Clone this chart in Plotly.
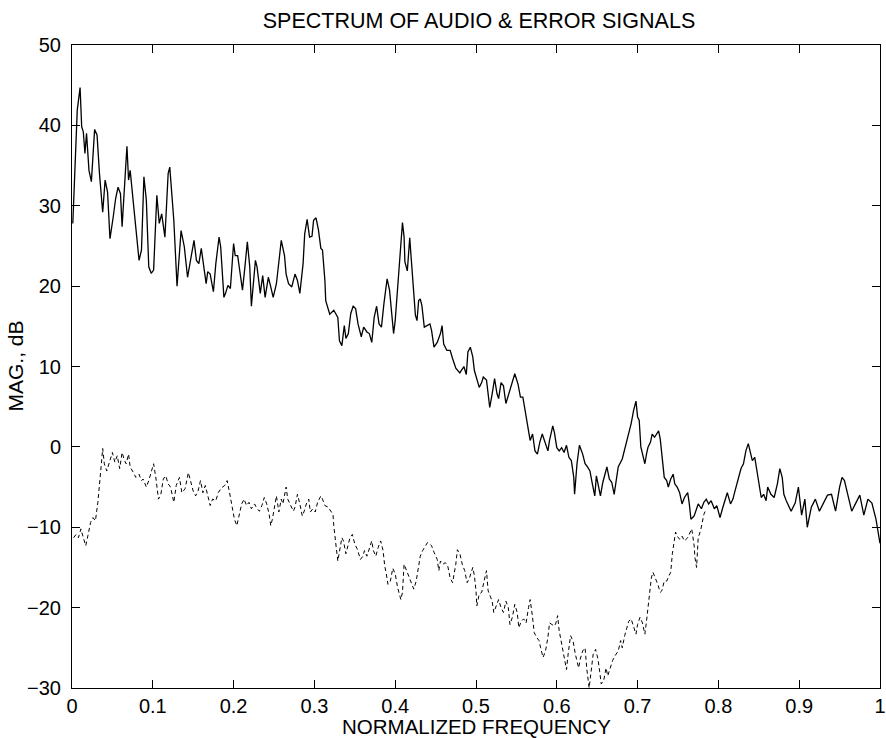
import plotly.graph_objects as go

# audio spectrum (solid line)
audio_f = [0.001, 0.004, 0.0065, 0.010, 0.012, 0.014, 0.016, 0.018, 0.021, 0.024, 0.028, 0.031, 0.034, 0.038,
           0.041, 0.044, 0.047, 0.051, 0.054, 0.057, 0.060, 0.062, 0.065, 0.068, 0.070, 0.072, 0.076, 0.080,
           0.083, 0.086, 0.089, 0.092, 0.095, 0.098, 0.101, 0.105, 0.108, 0.111, 0.115, 0.119, 0.121, 0.126,
           0.130, 0.135, 0.139, 0.143, 0.147, 0.151, 0.154, 0.157, 0.160, 0.163, 0.166, 0.168, 0.171, 0.175,
           0.178, 0.182, 0.184, 0.188, 0.190, 0.193, 0.196, 0.200, 0.202, 0.205, 0.208, 0.211, 0.214, 0.217,
           0.220, 0.222, 0.227, 0.229, 0.233, 0.236, 0.239, 0.243, 0.246, 0.249, 0.253, 0.256, 0.259, 0.263,
           0.265, 0.268, 0.272, 0.276, 0.279, 0.282, 0.286, 0.288, 0.291, 0.294, 0.297, 0.299, 0.302, 0.305,
           0.308, 0.310, 0.313, 0.314, 0.319, 0.324, 0.329, 0.331, 0.334, 0.337, 0.339, 0.342, 0.345, 0.348,
           0.351, 0.354, 0.358, 0.361, 0.365, 0.368, 0.371, 0.374, 0.377, 0.380, 0.383, 0.386, 0.390, 0.393,
           0.398, 0.400, 0.403, 0.406, 0.409, 0.411, 0.412, 0.415, 0.418, 0.420, 0.423, 0.425, 0.427, 0.429,
           0.431, 0.433, 0.436, 0.439, 0.443, 0.445, 0.448, 0.452, 0.456, 0.458, 0.460, 0.464, 0.468, 0.471,
           0.475, 0.480, 0.485, 0.488, 0.490, 0.493, 0.496, 0.498, 0.501, 0.504, 0.507, 0.509, 0.513, 0.517,
           0.520, 0.523, 0.526, 0.528, 0.531, 0.534, 0.537, 0.540, 0.544, 0.548, 0.552, 0.555, 0.558, 0.561,
           0.564, 0.567, 0.570, 0.573, 0.576, 0.579, 0.582, 0.585, 0.589, 0.591, 0.595, 0.597, 0.600, 0.603,
           0.606, 0.609, 0.612, 0.615, 0.618, 0.621, 0.622, 0.625, 0.628, 0.632, 0.635, 0.638, 0.641, 0.644,
           0.647, 0.649, 0.652, 0.654, 0.657, 0.660, 0.662, 0.665, 0.668, 0.671, 0.674, 0.676, 0.681, 0.685,
           0.689, 0.692, 0.695, 0.698, 0.700, 0.702, 0.704, 0.707, 0.709, 0.711, 0.713, 0.716, 0.718, 0.721,
           0.724, 0.726, 0.728, 0.730, 0.733, 0.736, 0.738, 0.741, 0.744, 0.746, 0.749, 0.752, 0.755, 0.758,
           0.762, 0.764, 0.766, 0.770, 0.773, 0.775, 0.779, 0.782, 0.785, 0.788, 0.791, 0.795, 0.798, 0.802,
           0.805, 0.809, 0.811, 0.815, 0.818, 0.820, 0.824, 0.828, 0.831, 0.834, 0.837, 0.839, 0.842, 0.845,
           0.847, 0.850, 0.853, 0.856, 0.859, 0.861, 0.865, 0.869, 0.873, 0.876, 0.879, 0.881, 0.884, 0.890,
           0.895, 0.899, 0.903, 0.907, 0.910, 0.915, 0.920, 0.925, 0.930, 0.935, 0.940, 0.945, 0.950, 0.953,
           0.956, 0.960, 0.965, 0.970, 0.975, 0.980, 0.985, 0.990, 0.995, 1.000]
audio_db = [27.8, 34.8, 41.9, 44.7, 39.8, 39.2, 36.5, 39.0, 34.4, 33.0, 39.5, 38.8, 34.0, 29.2,
            33.2, 31.7, 25.9, 28.6, 30.9, 32.3, 31.5, 27.4, 32.3, 37.4, 33.2, 34.4, 30.3, 26.5,
            23.2, 24.5, 33.6, 30.7, 22.4, 21.6, 22.0, 31.3, 27.8, 29.0, 26.1, 34.0, 34.8, 28.2,
            20.0, 26.9, 24.9, 21.1, 23.2, 25.7, 23.2, 22.8, 24.7, 22.6, 20.3, 21.8, 21.5, 19.3,
            22.8, 26.1, 24.9, 18.6, 19.1, 20.1, 19.7, 25.3, 23.8, 23.8, 21.8, 19.5, 22.4, 25.5,
            22.4, 17.5, 23.2, 22.4, 19.1, 21.3, 18.6, 21.1, 19.9, 18.6, 20.3, 22.8, 25.7, 23.8,
            21.5, 20.3, 19.9, 21.5, 20.7, 19.1, 22.8, 26.5, 28.3, 26.1, 26.2, 28.2, 28.5, 27.0,
            24.7, 24.5, 20.7, 18.2, 16.5, 17.0, 16.1, 13.2, 12.6, 15.1, 13.5, 14.1, 16.6, 17.5,
            17.2, 15.3, 13.7, 14.9, 14.3, 14.1, 13.0, 16.1, 17.5, 15.3, 14.9, 17.8, 20.9, 19.5,
            14.1, 15.7, 19.5, 24.0, 27.9, 26.1, 23.0, 21.9, 26.0, 23.2, 18.2, 16.4, 15.7, 18.2,
            18.4, 17.6, 14.9, 15.1, 15.3, 14.5, 12.4, 13.0, 14.1, 15.1, 12.8, 12.0, 12.0, 11.0,
            9.8, 9.2, 10.0, 9.0, 11.8, 12.4, 11.2, 9.5, 8.5, 7.4, 8.0, 8.7, 8.3, 4.9,
            6.6, 8.5, 6.6, 6.0, 8.0, 7.6, 5.4, 6.4, 7.8, 9.1, 7.8, 6.2, 6.2, 4.3,
            2.9, 0.8, 1.6, -0.5, -0.9, 0.6, 1.6, 0.8, -0.5, 0.8, 2.6, 1.8, -0.1, -0.5,
            -0.1, -0.7, 0.2, -1.3, -1.7, -3.8, -5.9, -2.1, 0.2, -0.9, -2.1, -2.5, -3.0, -4.6,
            -6.1, -3.6, -5.0, -6.1, -4.4, -3.4, -2.5, -4.0, -4.4, -5.9, -3.4, -2.5, -1.5, 0.0,
            1.8, 2.9, 4.5, 5.7, 3.7, 3.3, 0.0, -1.3, -2.1, -0.9, 0.0, 0.6, 1.6, 1.2,
            1.8, 2.0, 1.0, -1.3, -3.8, -4.2, -5.0, -4.0, -3.4, -4.6, -5.0, -5.7, -7.1, -6.3,
            -5.7, -7.1, -9.0, -8.6, -7.5, -7.1, -7.7, -6.9, -6.5, -7.1, -6.7, -7.7, -7.3, -8.8,
            -7.7, -6.3, -5.7, -7.1, -6.5, -5.7, -4.2, -2.7, -2.1, -0.5, 0.4, -0.5, -1.7, -1.3,
            -2.5, -4.6, -6.3, -5.9, -6.7, -5.0, -5.9, -6.3, -4.6, -2.7, -3.8, -5.9, -6.7, -8.0,
            -7.0, -5.0, -8.5, -6.5, -10.0, -7.5, -6.5, -8.0, -7.0, -6.0, -5.9, -8.0, -5.0, -3.8,
            -4.2, -5.9, -8.0, -7.0, -6.0, -8.5, -6.5, -7.0, -9.0, -12.0]

# error spectrum (dashed line)
error_f = [0.002, 0.005, 0.008, 0.011, 0.014, 0.017, 0.020, 0.023, 0.026, 0.029, 0.032, 0.034, 0.036, 0.038,
           0.040, 0.043, 0.047, 0.050, 0.053, 0.056, 0.059, 0.062, 0.065, 0.067, 0.070, 0.072, 0.076, 0.079,
           0.083, 0.086, 0.088, 0.092, 0.095, 0.098, 0.101, 0.104, 0.107, 0.110, 0.113, 0.116, 0.119, 0.122,
           0.126, 0.129, 0.133, 0.136, 0.140, 0.144, 0.147, 0.150, 0.153, 0.156, 0.159, 0.162, 0.165, 0.168,
           0.171, 0.174, 0.178, 0.181, 0.185, 0.189, 0.192, 0.195, 0.197, 0.199, 0.201, 0.204, 0.207, 0.210,
           0.213, 0.216, 0.219, 0.222, 0.226, 0.229, 0.232, 0.235, 0.238, 0.241, 0.244, 0.246, 0.248, 0.251,
           0.253, 0.256, 0.259, 0.261, 0.265, 0.267, 0.271, 0.274, 0.276, 0.279, 0.282, 0.285, 0.287, 0.290,
           0.293, 0.295, 0.298, 0.301, 0.304, 0.308, 0.310, 0.313, 0.317, 0.320, 0.323, 0.324, 0.325, 0.327,
           0.329, 0.331, 0.334, 0.336, 0.339, 0.342, 0.344, 0.347, 0.350, 0.353, 0.357, 0.360, 0.362, 0.365,
           0.368, 0.371, 0.373, 0.376, 0.379, 0.382, 0.385, 0.387, 0.389, 0.391, 0.394, 0.397, 0.400, 0.403,
           0.407, 0.409, 0.411, 0.414, 0.417, 0.420, 0.423, 0.426, 0.429, 0.431, 0.434, 0.437, 0.440, 0.443,
           0.445, 0.448, 0.452, 0.454, 0.456, 0.459, 0.462, 0.465, 0.468, 0.471, 0.473, 0.475, 0.477, 0.480,
           0.483, 0.486, 0.489, 0.492, 0.496, 0.498, 0.500, 0.501, 0.504, 0.507, 0.510, 0.513, 0.515, 0.518,
           0.520, 0.522, 0.525, 0.528, 0.531, 0.534, 0.537, 0.540, 0.542, 0.545, 0.548, 0.551, 0.553, 0.556,
           0.559, 0.562, 0.565, 0.567, 0.570, 0.572, 0.575, 0.578, 0.580, 0.583, 0.586, 0.589, 0.591, 0.594,
           0.597, 0.599, 0.601, 0.603, 0.606, 0.609, 0.612, 0.614, 0.617, 0.620, 0.623, 0.627, 0.629, 0.632,
           0.635, 0.637, 0.640, 0.643, 0.645, 0.648, 0.651, 0.653, 0.655, 0.658, 0.661, 0.663, 0.666, 0.669,
           0.672, 0.676, 0.679, 0.681, 0.684, 0.686, 0.689, 0.692, 0.695, 0.698, 0.700, 0.703, 0.706, 0.709,
           0.711, 0.713, 0.715, 0.717, 0.719, 0.722, 0.725, 0.728, 0.730, 0.733, 0.736, 0.739, 0.741, 0.743,
           0.745, 0.747, 0.749, 0.752, 0.755, 0.758, 0.762, 0.764, 0.767, 0.770, 0.771, 0.773, 0.775, 0.778,
           0.780, 0.782, 0.785]
error_db = [-11.3, -10.9, -11.3, -10.2, -11.3, -12.3, -10.9, -9.4, -8.8, -9.2, -6.9, -5.0, -2.5, -0.2,
            -2.1, -3.0, -1.7, -0.7, -1.9, -1.1, -2.7, -0.7, -1.7, -2.1, -0.9, -2.5, -3.2, -3.8,
            -3.4, -4.2, -4.0, -5.0, -4.2, -3.0, -2.1, -4.0, -6.5, -5.9, -4.0, -3.6, -4.6, -5.0,
            -6.9, -4.8, -3.8, -5.7, -5.2, -3.2, -4.2, -5.5, -6.1, -5.5, -4.2, -5.7, -4.8, -5.9,
            -7.3, -6.5, -6.7, -5.7, -5.1, -4.8, -4.2, -5.7, -6.7, -8.1, -9.0, -9.8, -8.6, -7.1,
            -6.5, -7.3, -6.9, -7.7, -7.1, -7.7, -8.0, -7.3, -6.3, -7.1, -8.4, -9.8, -9.0, -7.1,
            -6.1, -8.1, -6.5, -7.1, -5.0, -6.5, -7.3, -8.0, -7.5, -5.9, -7.1, -8.6, -8.1, -7.1,
            -6.5, -8.1, -7.7, -8.1, -6.9, -6.1, -6.5, -7.3, -7.5, -8.0, -8.4, -9.8, -11.1, -12.5,
            -14.2, -12.9, -11.3, -11.7, -13.3, -12.1, -11.3, -10.9, -12.1, -12.7, -14.0, -13.6, -12.9, -13.6,
            -12.7, -11.7, -12.9, -13.6, -12.5, -11.7, -12.9, -14.8, -15.8, -17.1, -16.7, -15.1, -15.8, -17.5,
            -19.0, -18.1, -14.6, -15.4, -16.3, -16.9, -17.7, -16.7, -15.0, -13.6, -12.9, -12.3, -11.9, -12.1,
            -12.3, -13.1, -14.0, -15.4, -14.2, -14.6, -14.4, -14.8, -16.3, -16.9, -15.8, -14.6, -12.8, -13.3,
            -14.6, -15.4, -16.9, -16.3, -15.0, -16.0, -17.9, -19.8, -18.3, -18.1, -16.7, -15.4, -17.9, -18.7,
            -19.2, -20.6, -19.8, -19.0, -20.0, -20.6, -19.2, -20.0, -22.1, -21.2, -19.6, -20.6, -22.5, -21.7,
            -21.4, -21.9, -20.0, -19.0, -21.2, -23.1, -23.7, -24.1, -25.0, -26.2, -25.4, -23.7, -21.9, -22.1,
            -22.3, -21.9, -21.0, -22.9, -24.4, -25.8, -27.7, -25.8, -23.5, -24.1, -25.8, -27.5, -26.4, -25.4,
            -25.0, -27.5, -30.0, -27.5, -25.8, -25.2, -26.4, -27.9, -29.5, -29.1, -27.5, -28.5, -27.5, -26.6,
            -26.0, -25.4, -24.1, -25.0, -23.5, -22.7, -21.7, -21.4, -22.5, -23.3, -22.1, -21.2, -21.9, -23.3,
            -21.7, -19.6, -17.5, -16.3, -15.6, -16.3, -17.1, -18.1, -17.9, -16.7, -16.7, -16.0, -15.6, -13.3,
            -11.7, -10.6, -11.1, -11.5, -11.1, -11.7, -11.3, -10.9, -10.2, -12.3, -13.8, -15.0, -11.3, -10.4,
            -9.2, -8.4, -7.7]

x_ticks = [0, 0.1, 0.2, 0.3, 0.4, 0.5, 0.6, 0.7, 0.8, 0.9, 1]
y_ticks = [-30, -20, -10, 0, 10, 20, 30, 40, 50]

font_name = "Liberation Sans, Arial, Helvetica, sans-serif"

fig = go.Figure()

fig.add_trace(go.Scatter(
    x=audio_f, y=audio_db,
    mode='lines',
    line=dict(color='black', width=1.3),
    showlegend=False,
    name='Audio'
))

fig.add_trace(go.Scatter(
    x=error_f, y=error_db,
    mode='lines',
    line=dict(color='black', width=1, dash='4px,3px'),
    showlegend=False,
    name='Error'
))

axis_style = dict(
    showgrid=False, zeroline=False,
    showline=True, linecolor='black', linewidth=1,
    mirror='ticks', ticks='inside', ticklen=8, tickcolor='black',
    ticklabeloverflow='allow',
    tickfont=dict(family=font_name, size=20, color='black'),
)

fig.update_xaxes(range=[0, 1], tickvals=x_ticks, ticktext=[str(t) for t in x_ticks],
                 ticklabelstandoff=0, **axis_style)
fig.update_yaxes(range=[-30, 50], tickvals=y_ticks, ticklabelstandoff=6, **axis_style)

fig.update_layout(
    width=886, height=738,
    margin=dict(l=72, r=0, t=45, b=50),
    paper_bgcolor='white', plot_bgcolor='white',
    font=dict(family=font_name, size=20, color='black'),
    title=dict(text='SPECTRUM OF AUDIO & ERROR SIGNALS', x=(479 / 886), xanchor='center',
               y=1 - 20 / 738, yanchor='middle', yref='container',
               font=dict(family=font_name, size=21.5, color='black')),
    annotations=[
        dict(text='NORMALIZED FREQUENCY', xref='paper', yref='paper', x=0.5, y=0,
             yshift=-38, xanchor='center', yanchor='middle', showarrow=False,
             font=dict(family=font_name, size=20.5, color='black')),
        dict(text='MAG., dB', xref='paper', yref='paper', x=0, y=0.5, xshift=-57,
             textangle=-90, xanchor='center', yanchor='middle', showarrow=False,
             font=dict(family=font_name, size=21, color='black')),
    ],
)

# drop the default page margin so the figure sits at the window corner
fig.write_html("out.html", config={'displayModeBar': False},
               post_script="document.body.style.margin='0px';")
